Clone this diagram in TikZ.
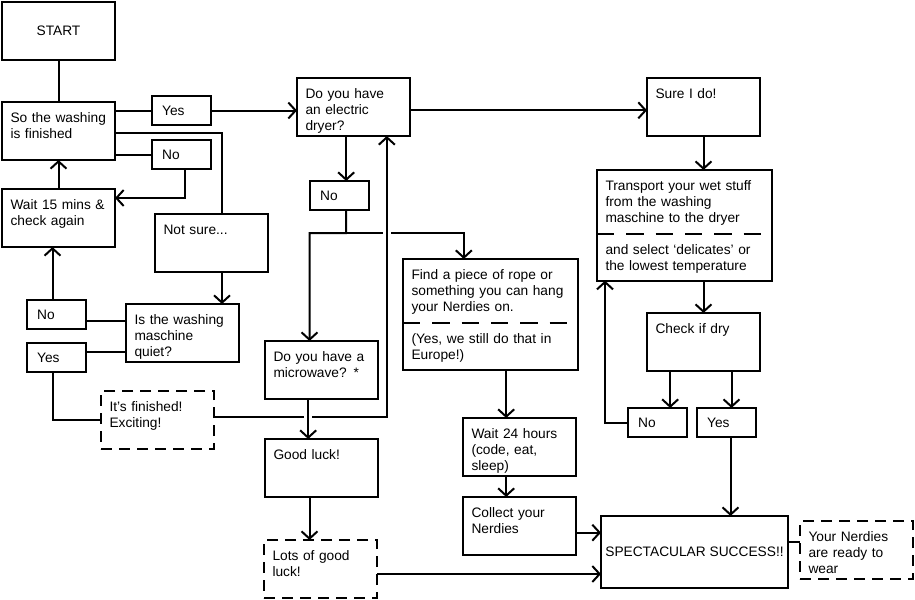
\documentclass[tikz,border=0pt]{standalone}
\usepackage{fontspec}
\setmainfont{Liberation Sans}
\usetikzlibrary{arrows.meta, backgrounds}

\begin{document}
\begin{tikzpicture}[x=0.75pt, y=-0.75pt, line width=1.5pt,
	>={Straight Barb[length=5.5pt, width=12pt]},
	every node/.style={font=\fontsize{10.3pt}{12pt}\selectfont},
	box/.style={draw, outer sep=0pt, anchor=north west, align=left, minimum width=84.75pt, minimum height=43.5pt, text width=72pt, inner xsep=6.375pt, inner ysep=7pt, text height=8.4pt, text depth=21.1pt},
	startbox/.style={box, align=center, text height=, text depth=},
	note/.style={box, dash pattern=on 8pt off 5.5pt},
	choice/.style={draw, outer sep=0pt, anchor=north west, align=left, minimum width=44.25pt, minimum height=21.75pt, text width=29pt, inner xsep=7.5pt, inner ysep=0pt},
	bigbox/.style={box, minimum width=131.25pt, minimum height=83pt, text width=118.5pt, text depth=60.6pt},
	part/.style={outer sep=0pt, anchor=north west, align=left, text width=118.5pt, inner xsep=6.375pt, inner ysep=7pt, text height=8.4pt},
	divider/.style={dash pattern=on 13pt off 9pt},
	goal/.style={draw, outer sep=0pt, anchor=north west, minimum width=140.25pt, minimum height=54pt, align=center, inner xsep=1pt},
	gap/.style={preaction={draw=white, line width=6pt, -}}]
			\useasboundingbox (0,0) rectangle (915,600);
			
			\node[startbox] (start) at (2,2) {START};
			\node[box] (washing) at (2,102) {So the washing\\is finished};
			\node[choice] (yes1) at (152,96) {Yes};
			\node[choice] (no1) at (152,140) {No};
			\node[box] (wait15) at (2,189) {Wait 15 mins \&\\check again};
			\node[box] (notsure) at (155,214) {Not sure...};
			\node[choice] (no2) at (27,300) {No};
			\node[box] (quiet) at (126,304) {Is the washing\\maschine\\quiet?};
			\node[choice] (yes2) at (27,343) {Yes};
			\node[note] (done) at (101,391) {It’s finished!\\Exciting!};
			
			\node[box] (dryer) at (297,78) {Do you have\\an electric\\dryer?};
			\node[choice] (no3) at (310,181) {No};
			\node[box] (micro) at (265,341) {Do you have a\\microwave? *};
			\node[box] (luck) at (265,439) {Good luck!};
			\node[note] (lots) at (264,540) {Lots of good\\luck!};
			
			\node[bigbox] (rope) at (403,259) {Find a piece of rope or\\something you can hang\\your Nerdies on.};
			\node[part] (ropenote) at (403,323) {(Yes, we still do that in\\Europe!)};
			\node[box] (wait24) at (463,418) {Wait 24 hours\\(code, eat,\\sleep)};
			\node[box] (collect) at (463,497) {Collect your\\Nerdies};
			
			\node[box] (sure) at (647,78) {Sure I do!};
			\node[bigbox] (transport) at (597,170) {Transport your wet stuff\\from the washing\\maschine to the dryer};
			\node[part] (transnote) at (597,234) {and select ‘delicates’ or\\the lowest temperature};
			\node[box] (check) at (647,313) {Check if dry};
			\node[choice] (no4) at (628,408) {No};
			\node[choice] (yes4) at (697,408) {Yes};
			\node[goal] (success) at (601,516) {SPECTACULAR SUCCESS!!};
			\node[note] (nerdy) at (800,521) {Your Nerdies\\are ready to\\wear};
			
			\draw[divider] (ropenote.north west) -- (ropenote.north east);
			\draw[divider] (transnote.north west) -- (transnote.north east);
			
			\coordinate (bend) at (222,133);
			\coordinate (back) at (185,198);
			\coordinate (split) at (346,233);
			
			\begin{scope}[on background layer={line width=1.5pt}]
			\draw (start.south) -- (washing.north);
			\draw (yes1.west -| washing.east) -- (yes1.west);
			\draw[->] (yes1.east) -- (yes1.east -| dryer.west);
			\draw (washing.east |- bend) -| (notsure.north -| bend);
			\draw (no1.west -| washing.east) -- (no1.west);
			\draw[->] (no1.south -| back) |- (wait15.east |- back);
			\draw[->] (wait15.north) -- (washing.south);
			\draw[->] (notsure.south -| bend) -- (quiet.north -| bend);
			\draw ([yshift=-5pt]no2.east) -- ([yshift=-5pt]no2.east -| quiet.west);
			\draw[->] ([xshift=-3pt]no2.north) -- ([xshift=-3pt]no2.north |- wait15.south);
			\draw ([yshift=4pt]yes2.east) -- ([yshift=4pt]yes2.east -| quiet.west);
			\draw ([xshift=-3pt]yes2.south) |- (done.west);
			
			\draw[->] ([xshift=5pt]no3.north |- dryer.south) -- ([xshift=5pt]no3.north);
			\draw[->] ([xshift=5pt]no3.south) -- (split) -| ([xshift=-9pt]micro.north);
			\draw[->] (split) -| ([xshift=-20pt]rope.north);
			\draw[->, gap] ([yshift=2pt]done.east) -| ([xshift=25pt]dryer.south);
			\draw[->, gap] ([xshift=-10pt]micro.south) -- ([xshift=-10pt]luck.north);
			\draw[->] ([xshift=-9pt]luck.south) -- ([xshift=-9pt]luck.south |- lots.north);
			\draw[->] ([yshift=-3.75pt]lots.east) -- ([yshift=-3.75pt]lots.east -| success.west);
			
			\draw[->] ([xshift=-10pt]wait24.north |- rope.south) -- ([xshift=-10pt]wait24.north);
			\draw[->] ([xshift=-10pt]wait24.south) -- ([xshift=-10pt]collect.north);
			\draw[->] ([yshift=-5pt]collect.east) -- ([yshift=-5pt]collect.east -| success.west);
			
			\draw[->] ([yshift=-2.5pt]dryer.east) -- ([yshift=-2.5pt]dryer.east -| sure.west);
			\draw[->] (sure.south) -- (sure.south |- transport.north);
			\draw[->] (check.north |- transport.south) -- (check.north);
			\draw[->] ([xshift=-25pt]check.south) -- ([xshift=-25pt]check.south |- no4.north);
			\draw[->] ([xshift=21pt]check.south) -- ([xshift=21pt]check.south |- yes4.north);
			\draw[->] (no4.west) -| ([xshift=6pt]transport.south west);
			\draw[->] ([xshift=3pt]yes4.south) -- ([xshift=3pt]yes4.south |- success.north);
			\draw ([yshift=6pt]nerdy.west -| success.east) -- ([yshift=6pt]nerdy.west);
			\end{scope}
		\end{tikzpicture}
\end{document}
